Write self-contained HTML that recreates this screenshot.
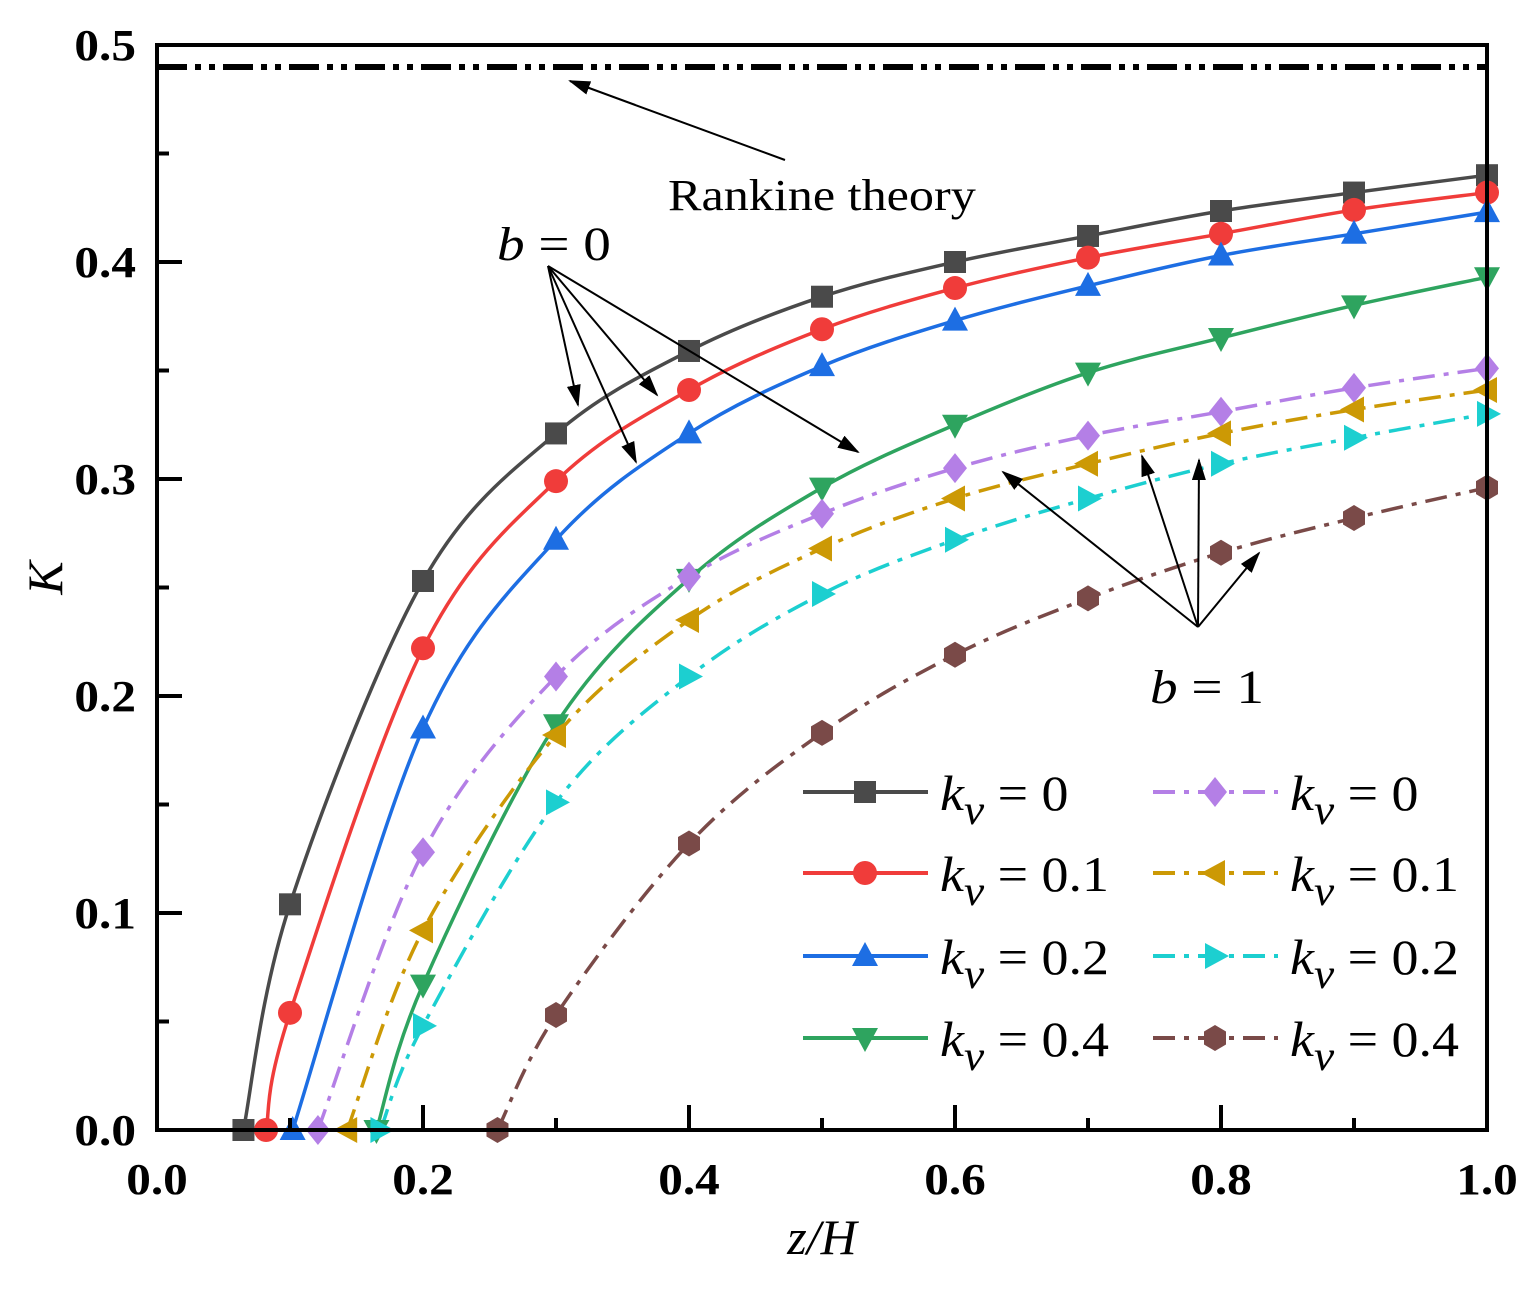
<!DOCTYPE html>
<html><head><meta charset="utf-8"><style>
body{margin:0;background:#fff;}
svg text{font-family:"Liberation Serif",serif;}
</style></head><body>
<svg id="s" width="1533" height="1285" viewBox="0 0 1533 1285" xmlns="http://www.w3.org/2000/svg">
<defs>
<marker id="ah2" markerWidth="22" markerHeight="14" refX="20" refY="7" orient="auto" markerUnits="userSpaceOnUse"><path d="M0,0 L22,7 L0,14 z" fill="#000"/></marker></defs>
<g id="plot"></g>
<rect x="157" y="45" width="1330" height="1085" fill="none" stroke="#000" stroke-width="4"/>
<line x1="157" y1="67" x2="1487" y2="67" stroke="#000" stroke-width="6" stroke-dasharray="30,8,6,8,6,8"/>
<g id="ticks"></g>
<text x="668" y="210" font-size="44" transform="translate(668,210) scale(1.14,1) translate(-668,-210)">Rankine theory</text>
<line x1="785" y1="160" x2="570" y2="81" stroke="#000" stroke-width="2" marker-end="url(#ah2)"/>
<text x="497" y="260" font-size="48" transform="translate(497,260) scale(1.15,1) translate(-497,-260)"><tspan font-style="italic">b</tspan> = 0</text>
<g stroke="#000" stroke-width="2" fill="none">
<line x1="548" y1="266" x2="578" y2="405" marker-end="url(#ah2)"/>
<line x1="548" y1="266" x2="657" y2="395" marker-end="url(#ah2)"/>
<line x1="548" y1="266" x2="636" y2="462" marker-end="url(#ah2)"/>
<line x1="548" y1="266" x2="858" y2="452" marker-end="url(#ah2)"/>
<line x1="1198" y1="627" x2="1003" y2="472" marker-end="url(#ah2)"/>
<line x1="1198" y1="627" x2="1142" y2="456" marker-end="url(#ah2)"/>
<line x1="1198" y1="627" x2="1199" y2="460" marker-end="url(#ah2)"/>
<line x1="1198" y1="627" x2="1259" y2="553" marker-end="url(#ah2)"/>
</g>
<text x="1150" y="703" font-size="48" transform="translate(1150,703) scale(1.15,1) translate(-1150,-703)"><tspan font-style="italic">b</tspan> = 1</text>
<g id="legend"></g>
<text transform="translate(62,578) rotate(-90)" font-size="50" font-style="italic" text-anchor="middle">K</text>
<text x="822" y="1254" font-size="50" font-style="italic" text-anchor="middle">z/H</text>
</svg>
<script>
var X=v=>157+v*1330, Y=v=>1130-v*2170;
var S=[
{c:"#4a4a4a",d:"",m:"sq",p:[[0.065,0],[0.1,0.104],[0.2,0.253],[0.3,0.321],[0.4,0.359],[0.5,0.384],[0.6,0.4],[0.7,0.412],[0.8,0.4235],[0.9,0.432],[1,0.44]]},
{c:"#f03c3a",d:"",m:"ci",p:[[0.082,0],[0.1,0.054],[0.2,0.222],[0.3,0.299],[0.4,0.341],[0.5,0.369],[0.6,0.388],[0.7,0.402],[0.8,0.413],[0.9,0.424],[1,0.432]]},
{c:"#1d6ee3",d:"",m:"tu",p:[[0.102,0],[0.2,0.185],[0.3,0.272],[0.4,0.321],[0.5,0.352],[0.6,0.373],[0.7,0.389],[0.8,0.403],[0.9,0.413],[1,0.423]]},
{c:"#2ea45f",d:"",m:"td",p:[[0.165,0],[0.2,0.067],[0.3,0.187],[0.4,0.254],[0.5,0.296],[0.6,0.325],[0.7,0.349],[0.8,0.365],[0.9,0.38],[1,0.393]]},
{c:"#b47fe6",d:"22,9,5,9",m:"di",p:[[0.121,0],[0.2,0.128],[0.3,0.209],[0.4,0.255],[0.5,0.284],[0.6,0.305],[0.7,0.32],[0.8,0.331],[0.9,0.342],[1,0.351]]},
{c:"#cc9905",d:"22,9,5,9",m:"tl",p:[[0.143,0],[0.2,0.092],[0.3,0.182],[0.4,0.235],[0.5,0.268],[0.6,0.291],[0.7,0.307],[0.8,0.321],[0.9,0.332],[1,0.341]]},
{c:"#1ccfd0",d:"22,9,5,9",m:"tr",p:[[0.168,0],[0.2,0.048],[0.3,0.151],[0.4,0.209],[0.5,0.247],[0.6,0.272],[0.7,0.291],[0.8,0.307],[0.9,0.319],[1,0.33]]},
{c:"#7a4a48",d:"22,9,5,9",m:"hx",p:[[0.256,0],[0.3,0.053],[0.4,0.132],[0.5,0.183],[0.6,0.219],[0.7,0.245],[0.8,0.266],[0.9,0.282],[1,0.296]]}];
function mk(t,x,y,c){
 if(t=="sq")return`<rect x="${x-11}" y="${y-11}" width="22" height="22" fill="${c}"/>`;
 if(t=="ci")return`<circle cx="${x}" cy="${y}" r="12" fill="${c}"/>`;
 var pts;
 if(t=="tu")pts=[[0,-14],[13,10],[-13,10]];
 if(t=="td")pts=[[0,14],[13,-10],[-13,-10]];
 if(t=="tl")pts=[[-14,0],[10,-13],[10,13]];
 if(t=="tr")pts=[[14,0],[-10,-13],[-10,13]];
 if(t=="di")pts=[[0,-15],[12,0],[0,15],[-12,0]];
 if(t=="hx")pts=[[0,-13],[11,-6.5],[11,6.5],[0,13],[-11,6.5],[-11,-6.5]];
 return`<polygon points="${pts.map(p=>(x+p[0])+","+(y+p[1])).join(" ")}" fill="${c}"/>`;}
function path(P){var q=P.map(p=>[X(p[0]),Y(p[1])]);var d="M"+q[0];
 for(var i=0;i<q.length-1;i++){var p0=q[i-1]||q[i],p1=q[i],p2=q[i+1],p3=q[i+2]||p2;
 var c1=[p1[0]+(p2[0]-p0[0])/6,p1[1]+(p2[1]-p0[1])/6],c2=[p2[0]-(p3[0]-p1[0])/6,p2[1]-(p3[1]-p1[1])/6];
 d+=" C"+c1+" "+c2+" "+p2;}return d;}
var h="";
S.forEach(s=>{h+=`<path d="${path(s.p)}" fill="none" stroke="${s.c}" stroke-width="3.5" ${s.d?'stroke-dasharray="'+s.d+'"':''}/>`;});
S.forEach(s=>{s.p.forEach(p=>h+=mk(s.m,X(p[0]),Y(p[1]),s.c));});
document.getElementById("plot").innerHTML=h;
function sx(x,y,k){return `transform="translate(${x},${y}) scale(${k},1) translate(${-x},${-y})"`;}
var t="";
for(var i=0;i<=10;i++){var x=X(i/10);t+=`<line x1="${x}" y1="1130" x2="${x}" y2="${i%2?1118:1105}" stroke="#000" stroke-width="4"/>`;
 if(i%2==0)t+=`<text x="${x}" y="1194" font-size="44" font-weight="bold" text-anchor="middle" ${sx(x,1194,1.12)}>${(i/10).toFixed(1)}</text>`;}
for(var i=0;i<=10;i++){var y=1130-i*108.5;t+=`<line x1="157" y1="${y}" x2="${i%2?169:182}" y2="${y}" stroke="#000" stroke-width="4"/>`;
 if(i%2==0)t+=`<text x="136" y="${y+15}" font-size="44" font-weight="bold" text-anchor="end" ${sx(136,y+15,1.12)}>${(i/20).toFixed(1)}</text>`;}
document.getElementById("ticks").innerHTML=t;
var L="",ys=[792,873,956,1038],lab=["0","0.1","0.2","0.4"];
S.forEach((s,i)=>{var col=i<4?0:1,y=ys[i%4],xs=col?1153:803;
 var xm=xs+62;
 L+=`<line x1="${xs}" y1="${y}" x2="${xs+125}" y2="${y}" stroke="${s.c}" stroke-width="4" ${s.d?'stroke-dasharray="'+s.d+'"':''}/>`+mk(s.m,xm,y,s.c);
 var tx=col?1290:940;
 L+=`<text x="${tx}" y="${y+18}" font-size="50" ${sx(tx,y+18,1.08)}><tspan font-style="italic">k</tspan><tspan font-style="italic" font-size="42" dy="14">v</tspan><tspan dy="-14"> = ${lab[i%4]}</tspan></text>`;});
document.getElementById("legend").innerHTML=L;
</script>
</body></html>
